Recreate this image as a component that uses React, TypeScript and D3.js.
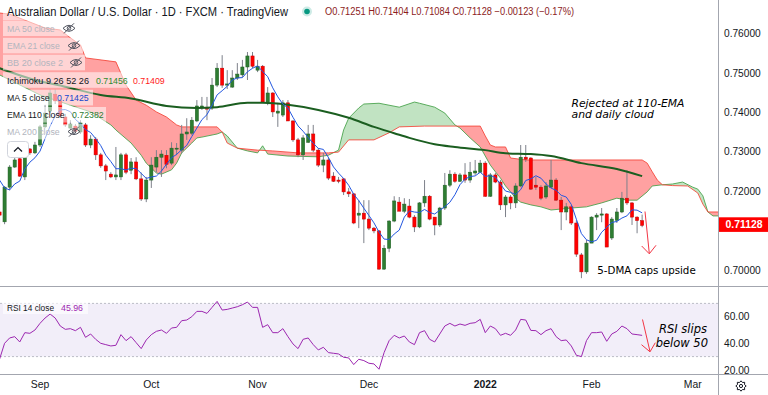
import React from "react";
import * as d3 from "d3";

// ---------- DATA ----------
const FIRST_BAR = -8; // bar index of first candle (0 = 1 Sep 2021)

const opens = [
  0.7147, 0.7122, 0.7210, 0.7261, 0.7282, 0.7236, 0.7307, 0.7297,
  0.7317, 0.7363, 0.7403, 0.7446, 0.7429, 0.7388, 0.7360, 0.7365, 0.7350, 0.7368,
  0.7317, 0.7332, 0.7292, 0.7264, 0.7243, 0.7236, 0.7236, 0.7292, 0.7253, 0.7274,
  0.7231, 0.7180, 0.7228, 0.7261, 0.7286, 0.7291, 0.7271, 0.7307, 0.7304, 0.7345,
  0.7347, 0.7378, 0.7413, 0.7413, 0.7411, 0.7469, 0.7512, 0.7469, 0.7464, 0.7487,
  0.7495, 0.7515, 0.7543, 0.7507, 0.7517, 0.7426, 0.7449, 0.7398, 0.7393, 0.7424,
  0.7378, 0.7330, 0.7292, 0.7324, 0.7345, 0.7304, 0.7266, 0.7279, 0.7238, 0.7228,
  0.7231, 0.7198, 0.7193, 0.7139, 0.7144, 0.7129, 0.7106, 0.7099, 0.7002, 0.7055,
  0.7124, 0.7172, 0.7149, 0.7162, 0.7134, 0.7109, 0.7170, 0.7187, 0.7134, 0.7114,
  0.7157, 0.7215, 0.7243, 0.7225, 0.7241, 0.7228, 0.7246, 0.7248, 0.7271, 0.7187,
  0.7241, 0.7223, 0.7165, 0.7185, 0.7170, 0.7213, 0.7286, 0.7284, 0.7215, 0.7210,
  0.7185, 0.7210, 0.7228, 0.7177, 0.7147, 0.7160, 0.7119, 0.7038, 0.6995, 0.7068,
  0.7134, 0.7139, 0.7142, 0.7081, 0.7126, 0.7147, 0.7182, 0.7170, 0.7134, 0.71251,
];
const highs = [
  0.7157, 0.7213, 0.7266, 0.7284, 0.7284, 0.7297, 0.7309, 0.7325,
  0.7368, 0.7419, 0.7457, 0.7457, 0.7434, 0.7396, 0.7380, 0.7370, 0.7380, 0.7373,
  0.7342, 0.7337, 0.7297, 0.7269, 0.7248, 0.7312, 0.7297, 0.7297, 0.7284, 0.7286,
  0.7247, 0.7236, 0.7286, 0.7304, 0.7304, 0.7304, 0.7324, 0.7322, 0.7368, 0.7385,
  0.7388, 0.7431, 0.7439, 0.7439, 0.7487, 0.7525, 0.7545, 0.7507, 0.7507, 0.7525,
  0.7533, 0.7553, 0.7553, 0.7533, 0.7520, 0.7464, 0.7451, 0.7424, 0.7431, 0.7431,
  0.7380, 0.7335, 0.7342, 0.7368, 0.7368, 0.7309, 0.7297, 0.7286, 0.7248, 0.7236,
  0.7233, 0.7208, 0.7195, 0.7177, 0.7177, 0.7177, 0.7109, 0.7101, 0.7063, 0.7126,
  0.7187, 0.7185, 0.7182, 0.7180, 0.7139, 0.7172, 0.7228, 0.7190, 0.7134, 0.7160,
  0.7246, 0.7253, 0.7248, 0.7246, 0.7271, 0.7274, 0.7279, 0.7279, 0.7276, 0.7246,
  0.7246, 0.7228, 0.7190, 0.7190, 0.7220, 0.7317, 0.7317, 0.7286, 0.7236, 0.7215,
  0.7223, 0.7279, 0.7233, 0.7185, 0.7170, 0.7165, 0.7126, 0.7043, 0.7076, 0.7136,
  0.7144, 0.7157, 0.7144, 0.7134, 0.7157, 0.7198, 0.7253, 0.7172, 0.7136, 0.71404,
];
const lows = [
  0.7109, 0.7116, 0.7202, 0.7259, 0.7236, 0.7228, 0.7292, 0.7294,
  0.7312, 0.7360, 0.7398, 0.7421, 0.7386, 0.7363, 0.7355, 0.7347, 0.7345, 0.7312,
  0.7309, 0.7279, 0.7259, 0.7228, 0.7233, 0.7228, 0.7228, 0.7243, 0.7243, 0.7228,
  0.7175, 0.7172, 0.7208, 0.7248, 0.7236, 0.7258, 0.7266, 0.7291, 0.7296, 0.7330,
  0.7342, 0.7375, 0.7406, 0.7380, 0.7406, 0.7464, 0.7462, 0.7459, 0.7462, 0.7482,
  0.7489, 0.7482, 0.7512, 0.7502, 0.7424, 0.7418, 0.7388, 0.7363, 0.7388, 0.7378,
  0.7325, 0.7286, 0.7279, 0.7322, 0.7299, 0.7261, 0.7248, 0.7228, 0.7223, 0.7220,
  0.7190, 0.7185, 0.7116, 0.7106, 0.7068, 0.7101, 0.7093, 0.7000, 0.7000, 0.7045,
  0.7121, 0.7149, 0.7144, 0.7131, 0.7096, 0.7106, 0.7160, 0.7126, 0.7088, 0.7109,
  0.7152, 0.7210, 0.7221, 0.7223, 0.7221, 0.7221, 0.7241, 0.7246, 0.7185, 0.7185,
  0.7220, 0.7152, 0.7134, 0.7154, 0.7157, 0.7210, 0.7274, 0.7203, 0.7203, 0.7177,
  0.7180, 0.7208, 0.7175, 0.7101, 0.7126, 0.7114, 0.7033, 0.6979, 0.6990, 0.7068,
  0.7101, 0.7121, 0.7058, 0.7076, 0.7119, 0.7144, 0.7165, 0.7114, 0.7093, 0.71084,
];
const closes = [
  0.7139, 0.7210, 0.7261, 0.7279, 0.7238, 0.7292, 0.7297, 0.7317,
  0.7363, 0.7398, 0.7449, 0.7429, 0.7391, 0.7368, 0.7370, 0.7352, 0.7373, 0.7317,
  0.7332, 0.7292, 0.7264, 0.7251, 0.7236, 0.7241, 0.7292, 0.7248, 0.7274, 0.7231,
  0.7180, 0.7228, 0.7266, 0.7286, 0.7294, 0.7268, 0.7309, 0.7309, 0.7345, 0.7350,
  0.7380, 0.7416, 0.7416, 0.7408, 0.7469, 0.7512, 0.7469, 0.7472, 0.7487, 0.7497,
  0.7515, 0.7543, 0.7517, 0.7517, 0.7426, 0.7449, 0.7401, 0.7403, 0.7424, 0.7378,
  0.7330, 0.7292, 0.7335, 0.7345, 0.7304, 0.7266, 0.7279, 0.7233, 0.7225, 0.7225,
  0.7198, 0.7193, 0.7119, 0.7144, 0.7129, 0.7106, 0.7099, 0.7002, 0.7055, 0.7124,
  0.7175, 0.7149, 0.7167, 0.7134, 0.7109, 0.7170, 0.7187, 0.7129, 0.7114, 0.7157,
  0.7215, 0.7243, 0.7225, 0.7241, 0.7228, 0.7248, 0.7251, 0.7271, 0.7187, 0.7241,
  0.7223, 0.7165, 0.7185, 0.7170, 0.7213, 0.7286, 0.7281, 0.7205, 0.7210, 0.7182,
  0.7213, 0.7228, 0.7177, 0.7147, 0.7160, 0.7119, 0.7040, 0.6995, 0.7068, 0.7134,
  0.7139, 0.7142, 0.7058, 0.7129, 0.7147, 0.7182, 0.7170, 0.7134, 0.71251, 0.71128,
];
// 5-day MA values for the first four bars (their windows start before the chart)
const ma5Lead = [0.7228, 0.7208, 0.7203, 0.7218];

const rsiValues = [
  28, 40, 44, 45, 41, 48, 47.5, 50,
  55, 59, 62, 59, 53, 50.5, 51, 49.5, 52, 44.5,
  47, 43, 40, 39, 38, 38.5, 46.5, 42, 45, 40.5,
  36, 42.5, 46.5, 49, 50, 47.5, 51.5, 52, 57, 57.5,
  60, 64, 64, 62.5, 67, 71.5, 65, 65.5, 66.5, 67.5,
  69, 71, 67, 67, 52, 54, 48, 48, 51, 45,
  39.5, 36, 43, 44, 39, 35, 37, 33, 32.5, 32,
  29.5, 29, 24, 28, 27, 25, 24.5, 20.5, 33, 42,
  46, 44, 45.5, 41, 39, 48, 49.5, 43, 41, 47,
  53, 55, 53, 54.5, 53.5, 55, 55.5, 58, 48, 53,
  51, 46, 47.5, 46, 50, 58, 57.5, 49.7, 49.5, 46.5,
  49.5, 51, 45, 42, 42.5, 38, 31, 30, 42, 48,
  48, 48.5, 41.5, 47, 49, 53, 51, 47, 46.5, 45.96,
];

const emaBars = [-8, -1, 5, 12, 18, 25, 31, 35, 41, 44, 49, 55, 61, 66, 70, 73, 78, 82, 88, 92, 97, 101, 107, 114, 119];
const emaValues = [0.7512, 0.7482, 0.7465, 0.7444, 0.7435, 0.7416, 0.7411, 0.7413, 0.7424, 0.7424, 0.7419, 0.7406, 0.7386, 0.7363, 0.7347, 0.7335, 0.7319, 0.7312, 0.7304, 0.7296, 0.7294, 0.7289, 0.7271, 0.7256, 0.7238];

const spanABars = [-8, 0, 6, 10, 14, 15, 18, 20, 21, 23, 24, 26, 27, 28, 30, 31, 32, 35, 36, 37, 39, 41, 43, 44, 45, 49, 55, 57, 59, 60, 61, 63, 64, 67, 71, 74, 75, 78, 80, 82, 83, 85, 87, 88, 89, 90, 91, 92, 93, 94, 95, 97, 99, 101, 105, 108, 111, 114, 116, 118, 120, 121, 123, 125, 127, 129, 130, 131, 132, 133, 134];
const spanAValues = [0.7495, 0.7444, 0.7418, 0.7401, 0.7368, 0.7355, 0.7322, 0.7291, 0.7271, 0.7246, 0.7243, 0.7254, 0.7271, 0.7297, 0.7322, 0.7335, 0.7337, 0.7345, 0.7350, 0.7340, 0.7309, 0.7302, 0.7297, 0.7315, 0.7294, 0.7289, 0.7287, 0.7291, 0.7304, 0.7355, 0.7385, 0.7411, 0.7421, 0.7423, 0.7413, 0.7426, 0.7423, 0.7413, 0.7398, 0.7368, 0.7360, 0.7335, 0.7312, 0.7289, 0.7266, 0.7249, 0.7233, 0.7213, 0.7198, 0.7182, 0.7172, 0.7165, 0.7160, 0.7152, 0.7157, 0.7160, 0.7170, 0.7182, 0.7177, 0.7177, 0.7198, 0.7213, 0.7216, 0.7218, 0.7223, 0.7210, 0.7205, 0.7188, 0.7147, 0.7137, 0.7137];

const spanBBars = [-8, -6, -3, 1, 4, 6, 8, 9, 15, 17, 19, 21, 23, 25, 27, 28, 35, 36, 37, 39, 43, 46, 51, 57, 59, 61, 66, 69, 71, 76, 87, 88, 89, 90, 92, 93, 96, 119, 120, 121, 122, 123, 125, 128, 130, 131, 132, 134];
const spanBValues = [0.7652, 0.7649, 0.7634, 0.7614, 0.7609, 0.7589, 0.7571, 0.7538, 0.7528, 0.7469, 0.7431, 0.7418, 0.7401, 0.7388, 0.7368, 0.7363, 0.7363, 0.7350, 0.7322, 0.7309, 0.7304, 0.7302, 0.7297, 0.7297, 0.7299, 0.7330, 0.7330, 0.7348, 0.7363, 0.7365, 0.7365, 0.7340, 0.7317, 0.7312, 0.7312, 0.7284, 0.7279, 0.7279, 0.7271, 0.7249, 0.7228, 0.7216, 0.7214, 0.7213, 0.7195, 0.7167, 0.7147, 0.7147];

const monthLabels = ["Sep", "Oct", "Nov", "Dec", "2022", "Feb", "Mar"];
const monthBars = [0, 22, 43, 65, 88, 109, 129];
const priceTicks = [0.70, 0.72, 0.73, 0.74, 0.75, 0.76];
const rsiTicks = [20, 40, 60];
const lastClose = 0.71128;

// ---------- STYLE ----------
const FONT = "'Liberation Sans', Arial, sans-serif";
const ANNOT = "'DejaVu Sans', Verdana, sans-serif";
const TXT = "#131722";
const FADED = "#b2b5be";
const UP = "#2e7d32";
const DOWN = "#ff0000";
const WICK = "#7d808a";
const AXIS_LINE = "#a3a6af";

const PANE_W = 718;
const PRICE_BOTTOM = 286;
const RSI_TOP = 287;
const RSI_BOTTOM = 374;

function EyeOff({ cx, cy }: { cx: number; cy: number }) {
  return (
    <g stroke="#50535e" strokeWidth={1} fill="none">
      <path d={`M${cx - 6},${cy} Q${cx},${cy - 6} ${cx + 6},${cy} Q${cx},${cy + 6} ${cx - 6},${cy} Z`} />
      <circle cx={cx} cy={cy} r={1.8} />
      <line x1={cx - 5} y1={cy + 5} x2={cx + 5} y2={cy - 5} />
    </g>
  );
}

export default function App() {
  const x = d3.scaleLinear().domain([-8, 134]).range([-0.48, 718.04]);
  const y = d3.scaleLinear().domain([0.70, 0.76]).range([269.9, 33.5]);
  const yr = d3.scaleLinear().domain([20, 60]).range([369.9, 316.7]);

  const spanA = spanABars.map((b, i) => [b, spanAValues[i]]);
  const spanB = spanBBars.map((b, i) => [b, spanBValues[i]]);
  const toTop = d3.area<number[]>().x((d) => x(d[0])).y0(-20).y1((d) => y(d[1]));
  const toBottom = d3.area<number[]>().x((d) => x(d[0])).y0(320).y1((d) => y(d[1]));
  const priceLine = d3.line<number[]>().x((d) => x(d[0])).y((d) => y(d[1]));

  const ema = emaBars.map((b, i) => [b, emaValues[i]]);
  const emaPath = d3.line<number[]>().x((d) => x(d[0])).y((d) => y(d[1])).curve(d3.curveMonotoneX)(ema) || "";

  const ma5 = closes.map((c, i) => [i + FIRST_BAR, i < 4 ? ma5Lead[i] : (d3.mean(closes.slice(i - 4, i + 1)) as number)]);
  const ma5Path = priceLine(ma5) || "";

  const rsi = rsiValues.map((v, i) => [i + FIRST_BAR, v]);
  const rsiPath = d3.line<number[]>().x((d) => x(d[0])).y((d) => yr(d[1]))(rsi) || "";

  const gearPts = d3.range(16).map((i) => {
    const a = (i / 16) * Math.PI * 2;
    const r = i % 2 === 0 ? 5.2 : 3.8;
    return [741 + r * Math.cos(a), 386 + r * Math.sin(a)];
  });

  const legendRows = [
    { y: 28.3, label: "MA 50 close", w: 47.7, faded: true, eye: 69, bgEnd: 78 },
    { y: 45.6, label: "EMA 21 close", w: 52.7, faded: true, eye: 74, bgEnd: 83 },
    { y: 62.5, label: "BB 20 close 2", w: 56, faded: true, eye: 76, bgEnd: 85 },
    { y: 80, label: "Ichimoku 9 26 52 26", w: 82, faded: false, eye: 0, bgEnd: 166 },
    { y: 97.6, label: "MA 5 close", w: 42.7, faded: false, eye: 0, bgEnd: 93 },
    { y: 114.8, label: "EMA 110 close", w: 57.7, faded: false, eye: 0, bgEnd: 106 },
    { y: 131.6, label: "MA 200 close", w: 52.7, faded: true, eye: 74, bgEnd: 83 },
  ];

  return (
    <svg
      width={768}
      height={395}
      viewBox="0 0 768 395"
      style={{ position: "absolute", left: 0, top: 0, display: "block", background: "#ffffff" }}
      fontFamily={FONT}
    >
      <defs>
        <clipPath id="pricePane">
          <rect x={0} y={0} width={PANE_W} height={PRICE_BOTTOM} />
        </clipPath>
        <clipPath id="rsiPane">
          <rect x={0} y={RSI_TOP} width={PANE_W} height={RSI_BOTTOM - RSI_TOP} />
        </clipPath>
        <clipPath id="aboveA">
          <path d={toTop(spanA) || ""} />
        </clipPath>
        <clipPath id="aboveB">
          <path d={toTop(spanB) || ""} />
        </clipPath>
      </defs>
      <rect x={0} y={0} width={768} height={395} fill="#ffffff" />

      {/* ---------- PRICE PANE ---------- */}
      <g clipPath="url(#pricePane)">
        {/* Ichimoku cloud */}
        <path d={toBottom(spanB) || ""} clipPath="url(#aboveA)" fill="#ff0000" fillOpacity={0.37} />
        <path d={toBottom(spanA) || ""} clipPath="url(#aboveB)" fill="#4caf50" fillOpacity={0.35} />
        <path d={priceLine(spanA) || ""} fill="none" stroke="#43a047" strokeWidth={1} strokeOpacity={0.85} />
        <path d={priceLine(spanB) || ""} fill="none" stroke="#f44336" strokeWidth={1} strokeOpacity={0.85} />

        {/* candles */}
        {closes.map((c, i) => {
          const k = i + FIRST_BAR;
          const cx = x(k);
          const o = opens[i];
          const up = c >= o;
          const top = y(Math.max(o, c));
          const h = Math.max(1, Math.abs(y(o) - y(c)));
          return (
            <g key={k}>
              <line x1={cx} x2={cx} y1={y(highs[i])} y2={y(lows[i])} stroke={WICK} strokeWidth={1} />
              <rect
                x={cx - 1.6}
                y={top}
                width={3.2}
                height={h}
                fill={up ? UP : DOWN}
                stroke={up ? "#1f5f22" : "#c40000"}
                strokeWidth={0.5}
              />
            </g>
          );
        })}

        {/* EMA 110 and MA 5 */}
        <path d={emaPath} fill="none" stroke="#1b5e20" strokeWidth={2} />
        <path d={ma5Path} fill="none" stroke="#2357e0" strokeWidth={1} />
      </g>

      {/* legend: title + OHLC */}
      <rect x={3} y={3} width={580} height={17} fill="#ffffff" fillOpacity={0.55} />
      <text x={7} y={15.8} fontSize={12} fill={TXT} textLength={281} lengthAdjust="spacingAndGlyphs">
        Australian Dollar / U.S. Dollar · 1D · FXCM · TradingView
      </text>
      <circle cx={307} cy={11.5} r={5} fill="#089981" fillOpacity={0.2} />
      <circle cx={307} cy={11.5} r={2.8} fill="#089981" />
      <text x={325} y={15.2} fontSize={10} fill="#8c1c1c" textLength={249} lengthAdjust="spacingAndGlyphs">
        O0.71251 H0.71404 L0.71084 C0.71128 −0.00123 (−0.17%)
      </text>

      {/* legend rows */}
      {legendRows.map((r) => (
        <g key={r.label}>
          <rect x={3} y={r.y - 7.8} width={r.bgEnd - 3} height={15.6} fill="#ffffff" fillOpacity={0.55} />
          <text
            x={7}
            y={r.y + 3.6}
            fontSize={9.6}
            fill={r.faded ? FADED : TXT}
            textLength={r.w}
            lengthAdjust="spacingAndGlyphs"
          >
            {r.label}
          </text>
          {r.eye ? <EyeOff cx={r.eye} cy={r.y} /> : null}
        </g>
      ))}
      <text x={96} y={83.6} fontSize={9.6} fill="#2e8b2e" textLength={31.7} lengthAdjust="spacingAndGlyphs">0.71456</text>
      <text x={133} y={83.6} fontSize={9.6} fill="#ff1a1a" textLength={31.7} lengthAdjust="spacingAndGlyphs">0.71409</text>
      <text x={57} y={101.2} fontSize={9.6} fill="#1848cc" textLength={31.7} lengthAdjust="spacingAndGlyphs">0.71425</text>
      <text x={72} y={118.4} fontSize={9.6} fill="#2e7d32" textLength={31.7} lengthAdjust="spacingAndGlyphs">0.72382</text>

      {/* collapse button */}
      <rect x={7.5} y={141.5} width={21} height={16} rx={3} fill="#ffffff" stroke="#d1d4dc" />
      <path d="M14,151.5 L18,147.5 L22,151.5" fill="none" stroke={TXT} strokeWidth={1.2} />

      {/* annotations */}
      <text x={571.5} y={106.5} fontSize={10.3} fontStyle="italic" fontFamily={ANNOT} fill="#000000" textLength={113} lengthAdjust="spacingAndGlyphs">
        Rejected at 110-EMA
      </text>
      <text x={571.5} y={118.3} fontSize={10.3} fontStyle="italic" fontFamily={ANNOT} fill="#000000" textLength={82.5} lengthAdjust="spacingAndGlyphs">
        and daily cloud
      </text>
      <text x={597.3} y={273.8} fontSize={10} fontFamily={ANNOT} fill="#000000" textLength={98.4} lengthAdjust="spacingAndGlyphs">
        5-DMA caps upside
      </text>
      <g stroke="#f23645" strokeWidth={1} fill="none">
        <line x1={645} y1={211.5} x2={649.3} y2={253.5} />
        <polyline points="641.7,246 649.3,253.8 656,245.3" />
      </g>

      {/* ---------- RSI PANE ---------- */}
      <g clipPath="url(#rsiPane)">
        <rect x={0} y={yr(70)} width={PANE_W} height={yr(30) - yr(70)} fill="#7e57c2" fillOpacity={0.1} />
        <line x1={0} x2={PANE_W} y1={yr(70)} y2={yr(70)} stroke="#9598a1" strokeDasharray="2,2" strokeOpacity={0.6} />
        <line x1={0} x2={PANE_W} y1={yr(30)} y2={yr(30)} stroke="#9598a1" strokeDasharray="2,2" strokeOpacity={0.6} />
        <path d={rsiPath} fill="none" stroke="#9c27b0" strokeWidth={1} />
      </g>
      <rect x={3} y={300} width={85} height={14} fill="#ffffff" fillOpacity={0.6} />
      <text x={7} y={310.5} fontSize={9.6} fill={TXT} textLength={47} lengthAdjust="spacingAndGlyphs">RSI 14 close</text>
      <text x={61} y={310.5} fontSize={9.6} fill="#9c27b0" textLength={22} lengthAdjust="spacingAndGlyphs">45.96</text>
      <text x={707} y={332.5} fontSize={11.5} fontStyle="italic" fontFamily={ANNOT} fill="#000000" textAnchor="end">RSI slips</text>
      <text x={708} y={346.8} fontSize={11.5} fontStyle="italic" fontFamily={ANNOT} fill="#000000" textAnchor="end">below 50</text>
      <g stroke="#f23645" strokeWidth={1} fill="none">
        <line x1={642.5} y1={319.5} x2={650} y2={351.5} />
        <polyline points="641.5,344.7 650,351.8 655.3,342.7" />
      </g>

      {/* ---------- AXES ---------- */}
      <line x1={0} x2={768} y1={PRICE_BOTTOM + 0.5} y2={PRICE_BOTTOM + 0.5} stroke={AXIS_LINE} />
      <line x1={0} x2={768} y1={RSI_BOTTOM + 0.5} y2={RSI_BOTTOM + 0.5} stroke={AXIS_LINE} />
      <line x1={PANE_W + 0.5} x2={PANE_W + 0.5} y1={0} y2={395} stroke={AXIS_LINE} />

      {priceTicks.map((t) => (
        <text key={t} x={724} y={y(t) + 3.6} fontSize={10.2} fill={TXT} textLength={36.7} lengthAdjust="spacingAndGlyphs">
          {t.toFixed(5)}
        </text>
      ))}
      <rect x={719} y={217.3} width={49} height={14.6} fill="#ff0000" />
      <text x={725.5} y={228.3} fontSize={10.6} fontWeight={700} fill="#ffffff" textLength={37} lengthAdjust="spacingAndGlyphs">
        {lastClose.toFixed(5)}
      </text>

      {rsiTicks.map((t) => (
        <text key={t} x={724} y={yr(t) + 3.6} fontSize={10.2} fill={TXT}>
          {t.toFixed(2)}
        </text>
      ))}

      {monthLabels.map((m, i) => (
        <text key={m} x={x(monthBars[i])} y={388} fontSize={10.4} fill={TXT} textAnchor="middle" fontWeight={m === "2022" ? 700 : 400}>
          {m}
        </text>
      ))}
      <polygon points={gearPts.map((p) => p.join(",")).join(" ")} fill="none" stroke={TXT} strokeWidth={1} />
      <circle cx={741} cy={386} r={1.6} fill="none" stroke={TXT} strokeWidth={1} />
    </svg>
  );
}
